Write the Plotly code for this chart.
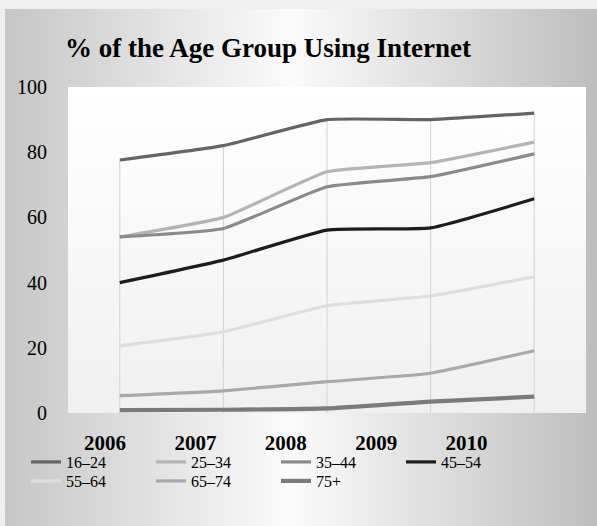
import base64
import plotly.graph_objects as go

years = ["2006", "2007", "2008", "2009", "2010"]
age_16_24 = [77.6, 82.0, 90.0, 90.0, 92.0]
age_25_34 = [54.0, 60.0, 74.0, 76.8, 83.1]
age_35_44 = [54.0, 56.6, 69.4, 72.5, 79.5]
age_45_54 = [40.0, 46.9, 56.1, 56.8, 65.7]
age_55_64 = [20.6, 24.9, 32.9, 35.9, 41.8]
age_65_74 = [5.3, 6.8, 9.6, 12.2, 19.1]
age_75_plus = [0.9, 1.0, 1.4, 3.5, 5.0]

series_names = ["16\u201324", "25\u201334", "35\u201344", "45\u201354", "55\u201364", "65\u201374", "75+"]
series_values = [age_16_24, age_25_34, age_35_44, age_45_54, age_55_64, age_65_74, age_75_plus]
series_colors = ["#646464", "#b4b4b4", "#8a8a8a", "#1c1c1c", "#dedede", "#a9a9a9", "#7a7a7a"]
series_widths = [3.2, 3.2, 3.2, 3.2, 3.2, 3.2, 4.2]
series_legend = ["legend", "legend", "legend", "legend", "legend2", "legend2", "legend2"]

FONT = "Liberation Serif"
W, H = 597, 526
ML, MR, MT, MB = 68, 11, 87, 113
PW = W - ML - MR
PH = H - MT - MB


def svg_uri(svg):
    return "data:image/svg+xml;base64," + base64.b64encode(svg.encode()).decode()


outer_svg = (
    "<svg xmlns='http://www.w3.org/2000/svg' viewBox='0 0 100 100' preserveAspectRatio='none'>"
    "<defs><linearGradient id='g' x1='0' x2='1' y1='0' y2='0'>"
    "<stop offset='0' stop-color='#c6c6c6'/><stop offset='0.48' stop-color='#fbfbfb'/>"
    "<stop offset='1' stop-color='#bdbdbd'/></linearGradient></defs>"
    "<rect x='0' y='0' width='100' height='100' fill='url(#g)'/></svg>"
)
inner_svg = (
    "<svg xmlns='http://www.w3.org/2000/svg' viewBox='0 0 100 100' preserveAspectRatio='none'>"
    "<defs><linearGradient id='h' x1='0' x2='0' y1='0' y2='1'>"
    "<stop offset='0' stop-color='#ffffff'/><stop offset='1' stop-color='#f0f0f0'/>"
    "</linearGradient></defs>"
    "<rect x='0' y='0' width='100' height='100' fill='url(#h)'/></svg>"
)

fig = go.Figure()

# drop lines from the highest series to the axis
drop_x, drop_y = [], []
for i, yr in enumerate(years):
    top = max(s[i] for s in series_values)
    drop_x += [yr, yr, None]
    drop_y += [top, 0, None]
fig.add_trace(go.Scatter(x=drop_x, y=drop_y, mode="lines", line=dict(color="#d2d2d2", width=1),
                         showlegend=False, hoverinfo="skip"))

for name, vals, col, wd, lg in zip(series_names, series_values, series_colors, series_widths, series_legend):
    fig.add_trace(go.Scatter(x=years, y=vals, name=name, mode="lines", legend=lg,
                             line=dict(color=col, width=wd, shape="spline", smoothing=0.4)))

# invisible trace carrying the category labels axis
fig.add_trace(go.Scatter(x=years, y=age_16_24, xaxis="x2", mode="markers",
                         marker=dict(opacity=0), showlegend=False, hoverinfo="skip"))

x0 = (5 - ML) / PW
x1 = (W + 2 - ML) / PW
y1 = (H - MB - 9) / PH
y0 = -(MB + 2) / PH

legend_common = dict(orientation="h", x=(26 - ML) / PW, xanchor="left", yanchor="middle",
                     entrywidth=80, entrywidthmode="pixels", bgcolor="rgba(0,0,0,0)",
                     font=dict(family=FONT, size=16, color="#000000"))

fig.update_layout(
    width=W, height=H,
    margin=dict(l=ML, r=MR, t=MT, b=MB),
    paper_bgcolor="#efefef",
    plot_bgcolor="rgba(0,0,0,0)",
    font=dict(family=FONT, color="#000000"),
    title=dict(text="% of the Age Group Using Internet", x=(268 - ML) / PW, xref="paper",
               xanchor="center", y=1 - 48 / H, yanchor="middle",
               font=dict(family=FONT, size=27, weight="bold", color="#000000")),
    images=[
        dict(source=svg_uri(outer_svg), xref="paper", yref="paper", x=x0, y=y1,
             sizex=x1 - x0, sizey=y1 - y0, xanchor="left", yanchor="top",
             sizing="stretch", layer="below"),
        dict(source=svg_uri(inner_svg), xref="paper", yref="paper", x=0, y=1,
             sizex=1, sizey=1, xanchor="left", yanchor="top",
             sizing="stretch", layer="below"),
    ],
    xaxis=dict(type="category", categoryorder="array", categoryarray=years,
               range=[-0.5, 4.5], showticklabels=False, showgrid=False,
               zeroline=False, showline=False, ticks=""),
    xaxis2=dict(type="category", categoryorder="array", categoryarray=years,
                overlaying="x", anchor="y", side="bottom",
                range=[-0.409, 5.321], showgrid=False, zeroline=False, showline=False,
                ticks="", ticklabelstandoff=15,
                tickfont=dict(family=FONT, size=21, weight="bold", color="#000000")),
    yaxis=dict(range=[0, 100], dtick=20, showgrid=False, zeroline=False, showline=False,
               ticks="", ticklabelstandoff=20,
               tickfont=dict(family=FONT, size=20, color="#000000")),
    legend=dict(y=-(462 - (H - MB)) / PH, **legend_common),
    legend2=dict(y=-(481 - (H - MB)) / PH, **legend_common),
    showlegend=True,
)

fig.write_html("out.html")
